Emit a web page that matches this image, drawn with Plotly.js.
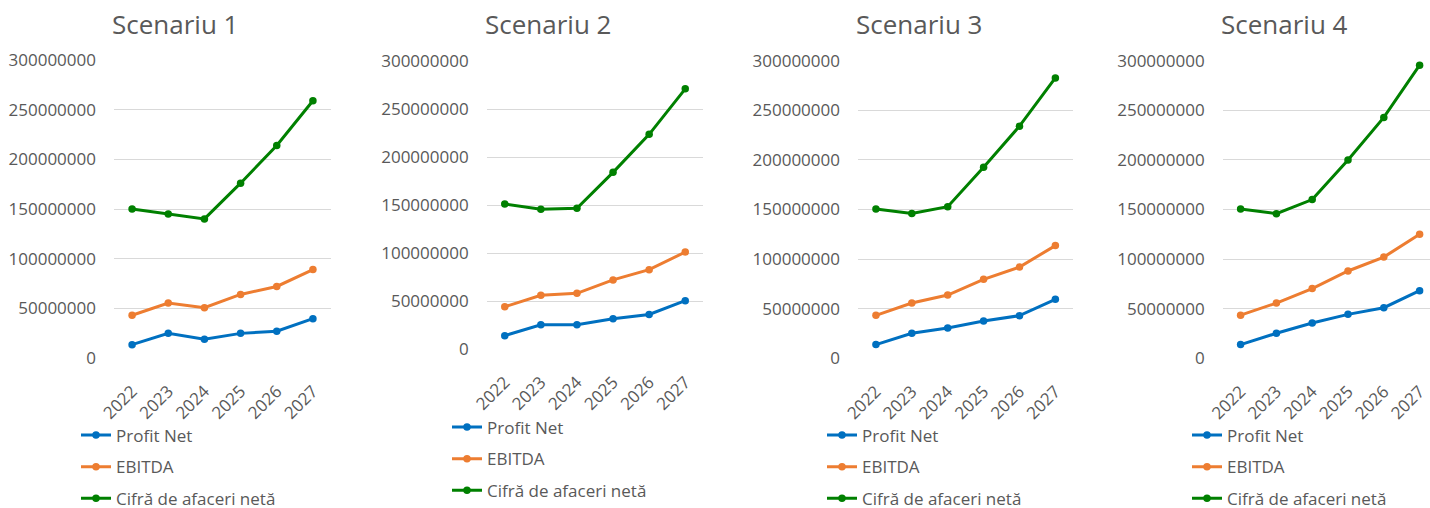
<!DOCTYPE html>
<html>
<head>
<meta charset="utf-8">
<script src="https://cdn.plot.ly/plotly-3.0.1.min.js"></script>
<style>html,body{margin:0;padding:0;background:#fff;}#chart{width:1430px;height:508px;}</style>
</head>
<body>
<div id="chart"></div>
<script>
// ---- Data ----
const years = ['2022', '2023', '2024', '2025', '2026', '2027'];
const seriesNames = ['Profit Net', 'EBITDA', 'Cifră de afaceri netă'];
const scenarioTitles = ['Scenariu 1', 'Scenariu 2', 'Scenariu 3', 'Scenariu 4'];

const s1_profit = [13400000, 24800000, 19000000, 24800000, 27000000, 39600000];
const s1_ebitda = [43000000, 55400000, 50700000, 64000000, 72000000, 89000000];
const s1_cifra  = [150000000, 145000000, 140000000, 176000000, 214000000, 259000000];

const s2_profit = [13900000, 25300000, 25300000, 31600000, 36000000, 50300000];
const s2_ebitda = [44000000, 56000000, 58000000, 72000000, 82600000, 101000000];
const s2_cifra  = [151000000, 145500000, 146500000, 184000000, 223600000, 271000000];

const s3_profit = [13800000, 25200000, 30600000, 37600000, 43000000, 59500000];
const s3_ebitda = [43300000, 55700000, 63800000, 79600000, 92000000, 113600000];
const s3_cifra  = [150500000, 146000000, 152800000, 192500000, 234000000, 282600000];

const s4_profit = [13800000, 25200000, 35600000, 44300000, 51000000, 68200000];
const s4_ebitda = [43500000, 55700000, 70300000, 88000000, 102000000, 125000000];
const s4_cifra  = [150500000, 145800000, 160000000, 200000000, 242800000, 295500000];

const yTickVals = [0, 50000000, 100000000, 150000000, 200000000, 250000000, 300000000];

// ---- Styling / layout ----
const W = 1430, H = 508;
const colors = ['#0070C0', '#ED7D31', '#008000'];
const FONT = '"Open Sans", "Noto Sans", sans-serif';
const GREY = '#595959';

const scenarios = [
  [s1_profit, s1_ebitda, s1_cifra],
  [s2_profit, s2_ebitda, s2_cifra],
  [s3_profit, s3_ebitda, s3_cifra],
  [s4_profit, s4_ebitda, s4_cifra]
];

// plot areas in pixels: [left, right, top(300M), bottom(0)]
const boxes = [
  [114, 331, 60, 358],
  [486.7, 703.3, 61, 349],
  [858, 1073.3, 60.7, 358.3],
  [1222.7, 1430, 60.7, 358.3]
];
const xRangeMax = [5.5, 5.5, 5.5, 5.29];
const legendPos = [[76, 417.5], [447, 409.5], [822, 417.5], [1187, 417.5]];

const traces = [];
const layout = {
  width: W, height: H,
  margin: {l: 0, r: 0, t: 0, b: 0, autoexpand: false},
  paper_bgcolor: '#fff', plot_bgcolor: '#fff',
  font: {family: FONT, color: GREY, size: 17},
  showlegend: true,
  annotations: []
};

scenarios.forEach((sc, i) => {
  const n = i + 1;
  const xa = 'x' + (n === 1 ? '' : n), ya = 'y' + (n === 1 ? '' : n);
  const lg = 'legend' + (n === 1 ? '' : n);
  const b = boxes[i];
  sc.forEach((vals, k) => {
    traces.push({
      type: 'scatter', mode: 'lines+markers',
      x: years, y: vals, name: seriesNames[k],
      xaxis: xa, yaxis: ya, legend: lg, legendgroup: 'g' + n + '_' + k,
      line: {color: colors[k], width: 3},
      marker: {color: colors[k], size: 7.5},
      hoverinfo: 'x+y+name'
    });
  });
  layout['xaxis' + (n === 1 ? '' : n)] = {
    domain: [b[0] / W, Math.min(b[1] / W, 1)],
    anchor: ya, type: 'category', range: [-0.5, xRangeMax[i]],
    showgrid: false, zeroline: false, showline: false, ticks: '',
    tickangle: -45, tickfont: {size: 17, color: GREY, family: FONT},
    ticklabelstandoff: 19, fixedrange: true, automargin: false
  };
  layout['yaxis' + (n === 1 ? '' : n)] = {
    domain: [1 - b[3] / H, 1 - b[2] / H],
    anchor: xa, range: [0, 300000000],
    tickvals: yTickVals, tickformat: 'd',
    showgrid: true, gridcolor: '#D9D9D9', gridwidth: 1,
    zeroline: false, showline: false, ticks: '',
    tickfont: {size: 17, color: GREY, family: FONT},
    ticklabelstandoff: 17, fixedrange: true, automargin: false
  };
  layout[lg] = {
    x: legendPos[i][0] / W, y: 1 - legendPos[i][1] / H,
    xanchor: 'left', yanchor: 'top', orientation: 'v',
    traceorder: 'grouped', tracegroupgap: 6.5,
    bgcolor: 'rgba(0,0,0,0)', borderwidth: 0,
    font: {size: 17, color: GREY, family: FONT}
  };
  layout.annotations.push({
    text: scenarioTitles[i], xref: 'paper', yref: 'paper',
    x: (b[0] - 4) / W, y: 1 - 24 / H, xanchor: 'left', yanchor: 'middle',
    showarrow: false, font: {size: 26, color: GREY, family: FONT}
  });
});

Plotly.newPlot('chart', traces, layout, {displayModeBar: false});
</script>
</body>
</html>
